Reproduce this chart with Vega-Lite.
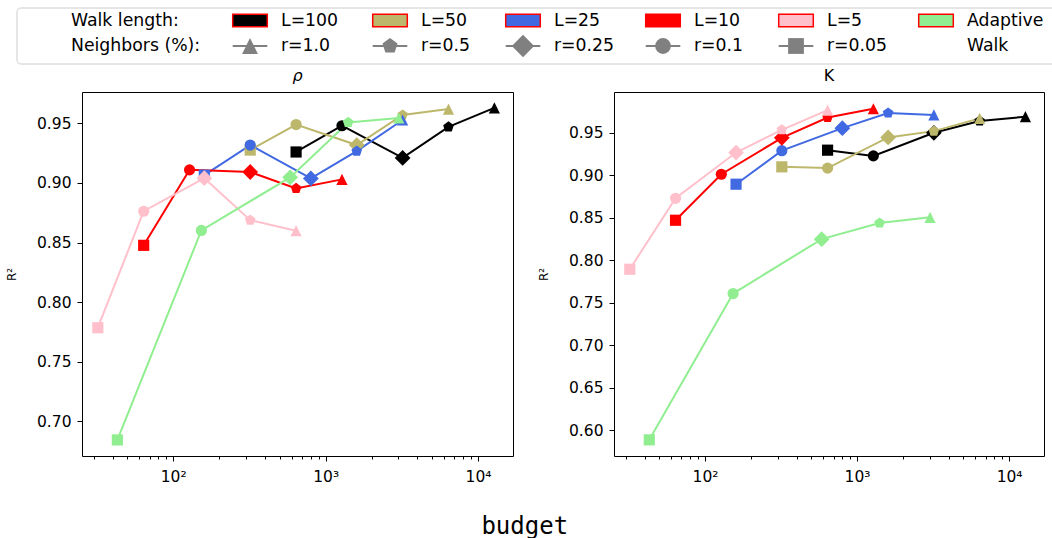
{
  "$schema": "https://vega.github.io/schema/vega-lite/v6.json",
  "padding": {"left": 4, "top": 7, "right": 0, "bottom": 0},
  "background": "white",
  "spacing": 2,
  "config": {
    "font": "DejaVu Sans",
    "view": {"stroke": "black", "strokeWidth": 1},
    "axis": {"labelFont": "DejaVu Sans", "labelFontSize": 15.5, "labelColor": "#000", "tickColor": "#000", "tickSize": 5, "labelPadding": 6, "grid": false, "domain": false, "titleFont": "DejaVu Sans", "titleFontSize": 12, "titleFontWeight": "normal", "titleColor": "#000"},
    "title": {"font": "DejaVu Sans", "fontSize": 16, "fontWeight": "normal", "offset": 8, "color": "#000"}
  },
  "datasets": {
    "main": [
      {"p": "rho", "s": "L=100", "r": "r=0.05", "b": 640, "v": 0.926},
      {"p": "rho", "s": "L=100", "r": "r=0.1", "b": 1280, "v": 0.948},
      {"p": "rho", "s": "L=100", "r": "r=0.25", "b": 3200, "v": 0.921},
      {"p": "rho", "s": "L=100", "r": "r=0.5", "b": 6400, "v": 0.947},
      {"p": "rho", "s": "L=100", "r": "r=1.0", "b": 12800, "v": 0.963},
      {"p": "rho", "s": "L=50", "r": "r=0.05", "b": 320, "v": 0.9276},
      {"p": "rho", "s": "L=50", "r": "r=0.1", "b": 640, "v": 0.949},
      {"p": "rho", "s": "L=50", "r": "r=0.25", "b": 1600, "v": 0.9318},
      {"p": "rho", "s": "L=50", "r": "r=0.5", "b": 3200, "v": 0.957},
      {"p": "rho", "s": "L=50", "r": "r=1.0", "b": 6400, "v": 0.962},
      {"p": "rho", "s": "L=25", "r": "r=0.05", "b": 160, "v": 0.9066},
      {"p": "rho", "s": "L=25", "r": "r=0.1", "b": 320, "v": 0.9318},
      {"p": "rho", "s": "L=25", "r": "r=0.25", "b": 800, "v": 0.9038},
      {"p": "rho", "s": "L=25", "r": "r=0.5", "b": 1600, "v": 0.9267},
      {"p": "rho", "s": "L=25", "r": "r=1.0", "b": 3200, "v": 0.9528},
      {"p": "rho", "s": "L=10", "r": "r=0.05", "b": 64, "v": 0.8477},
      {"p": "rho", "s": "L=10", "r": "r=0.1", "b": 128, "v": 0.911},
      {"p": "rho", "s": "L=10", "r": "r=0.25", "b": 320, "v": 0.9092},
      {"p": "rho", "s": "L=10", "r": "r=0.5", "b": 640, "v": 0.8954},
      {"p": "rho", "s": "L=10", "r": "r=1.0", "b": 1280, "v": 0.903},
      {"p": "rho", "s": "L=5", "r": "r=0.05", "b": 32, "v": 0.7786},
      {"p": "rho", "s": "L=5", "r": "r=0.1", "b": 64, "v": 0.8763},
      {"p": "rho", "s": "L=5", "r": "r=0.25", "b": 160, "v": 0.904},
      {"p": "rho", "s": "L=5", "r": "r=0.5", "b": 320, "v": 0.8688},
      {"p": "rho", "s": "L=5", "r": "r=1.0", "b": 640, "v": 0.86},
      {"p": "rho", "s": "Adaptive", "r": "r=0.05", "b": 43, "v": 0.6845},
      {"p": "rho", "s": "Adaptive", "r": "r=0.1", "b": 153, "v": 0.8602},
      {"p": "rho", "s": "Adaptive", "r": "r=0.25", "b": 585, "v": 0.9047},
      {"p": "rho", "s": "Adaptive", "r": "r=0.5", "b": 1406, "v": 0.9508},
      {"p": "rho", "s": "Adaptive", "r": "r=1.0", "b": 3020, "v": 0.9545},
      {"p": "K", "s": "L=100", "r": "r=0.05", "b": 640, "v": 0.9296},
      {"p": "K", "s": "L=100", "r": "r=0.1", "b": 1280, "v": 0.9229},
      {"p": "K", "s": "L=100", "r": "r=0.25", "b": 3200, "v": 0.95},
      {"p": "K", "s": "L=100", "r": "r=0.5", "b": 6400, "v": 0.9638},
      {"p": "K", "s": "L=100", "r": "r=1.0", "b": 12800, "v": 0.969},
      {"p": "K", "s": "L=50", "r": "r=0.05", "b": 320, "v": 0.91},
      {"p": "K", "s": "L=50", "r": "r=0.1", "b": 640, "v": 0.9085},
      {"p": "K", "s": "L=50", "r": "r=0.25", "b": 1600, "v": 0.9446},
      {"p": "K", "s": "L=50", "r": "r=0.5", "b": 3200, "v": 0.952},
      {"p": "K", "s": "L=50", "r": "r=1.0", "b": 6400, "v": 0.967},
      {"p": "K", "s": "L=25", "r": "r=0.05", "b": 160, "v": 0.8896},
      {"p": "K", "s": "L=25", "r": "r=0.1", "b": 320, "v": 0.929},
      {"p": "K", "s": "L=25", "r": "r=0.25", "b": 800, "v": 0.9555},
      {"p": "K", "s": "L=25", "r": "r=0.5", "b": 1600, "v": 0.9732},
      {"p": "K", "s": "L=25", "r": "r=1.0", "b": 3200, "v": 0.971},
      {"p": "K", "s": "L=10", "r": "r=0.05", "b": 64, "v": 0.8472},
      {"p": "K", "s": "L=10", "r": "r=0.1", "b": 128, "v": 0.9013},
      {"p": "K", "s": "L=10", "r": "r=0.25", "b": 320, "v": 0.9441},
      {"p": "K", "s": "L=10", "r": "r=0.5", "b": 640, "v": 0.968},
      {"p": "K", "s": "L=10", "r": "r=1.0", "b": 1280, "v": 0.9783},
      {"p": "K", "s": "L=5", "r": "r=0.05", "b": 32, "v": 0.7896},
      {"p": "K", "s": "L=5", "r": "r=0.1", "b": 64, "v": 0.873},
      {"p": "K", "s": "L=5", "r": "r=0.25", "b": 160, "v": 0.9268},
      {"p": "K", "s": "L=5", "r": "r=0.5", "b": 320, "v": 0.9535},
      {"p": "K", "s": "L=5", "r": "r=1.0", "b": 640, "v": 0.9767},
      {"p": "K", "s": "Adaptive", "r": "r=0.05", "b": 43, "v": 0.589},
      {"p": "K", "s": "Adaptive", "r": "r=0.1", "b": 153, "v": 0.761},
      {"p": "K", "s": "Adaptive", "r": "r=0.25", "b": 585, "v": 0.825},
      {"p": "K", "s": "Adaptive", "r": "r=0.5", "b": 1406, "v": 0.844},
      {"p": "K", "s": "Adaptive", "r": "r=1.0", "b": 3020, "v": 0.8506}
    ],
    "leg": [
      {"col": 0, "row": 0, "t": "Walk length:", "k": "title"},
      {"col": 0, "row": 1, "t": "Neighbors (%):", "k": "title"},
      {"col": 1, "row": 0, "t": "L=100", "k": "patch", "s": "L=100"},
      {"col": 2, "row": 0, "t": "L=50", "k": "patch", "s": "L=50"},
      {"col": 3, "row": 0, "t": "L=25", "k": "patch", "s": "L=25"},
      {"col": 4, "row": 0, "t": "L=10", "k": "patch", "s": "L=10"},
      {"col": 5, "row": 0, "t": "L=5", "k": "patch", "s": "L=5"},
      {"col": 6, "row": 0, "t": "Adaptive", "k": "patch", "s": "Adaptive"},
      {"col": 1, "row": 1, "t": "r=1.0", "k": "marker", "r": "r=1.0"},
      {"col": 2, "row": 1, "t": "r=0.5", "k": "marker", "r": "r=0.5"},
      {"col": 3, "row": 1, "t": "r=0.25", "k": "marker", "r": "r=0.25"},
      {"col": 4, "row": 1, "t": "r=0.1", "k": "marker", "r": "r=0.1"},
      {"col": 5, "row": 1, "t": "r=0.05", "k": "marker", "r": "r=0.05"},
      {"col": 6, "row": 1, "t": "Walk", "k": "blank"}
    ]
  },
  "vconcat": [
    {
      "width": 969,
      "height": 56,
      "data": {"name": "leg"},
      "view": {"stroke": null},
      "encoding": {
        "x": {"field": "col", "type": "quantitative", "scale": {"domain": [0, 1, 2, 3, 4, 5, 6], "range": [-42, 168, 308, 441, 581, 714, 854]}, "axis": null},
        "y": {"field": "row", "type": "quantitative", "scale": {"domain": [0, 1], "range": [12.5, 38]}, "axis": null}
      },
      "layer": [
        {
          "mark": {"type": "rect", "fill": "white", "stroke": "#cccccc", "strokeWidth": 1, "cornerRadius": 4, "xOffset": -23, "x2Offset": 140, "yOffset": -12.5, "y2Offset": 18},
          "encoding": {
            "x": {"aggregate": "min", "field": "col", "type": "quantitative"},
            "x2": {"aggregate": "max", "field": "col"},
            "y": {"aggregate": "min", "field": "row", "type": "quantitative"},
            "y2": {"aggregate": "max", "field": "row"}
          }
        },
        {
          "transform": [{"filter": "datum.k == 'patch'"}],
          "mark": {"type": "point", "filled": true, "opacity": 1, "size": 400, "shape": "M-1.73,-0.62H1.73V0.62H-1.73Z", "stroke": "red", "strokeWidth": 1.5},
          "encoding": {"color": {"field": "s", "type": "nominal", "scale": {"domain": ["L=100", "L=50", "L=25", "L=10", "L=5", "Adaptive"], "range": ["#000000", "#BDB76B", "#4169E1", "#FF0000", "#FFC0CB", "#90EE90"]}, "legend": null}}
        },
        {
          "transform": [{"filter": "datum.k == 'marker'"}],
          "mark": {"type": "point", "filled": false, "opacity": 1, "size": 400, "shape": "M-1.73,0H1.73", "color": "gray", "strokeWidth": 2}
        },
        {
          "transform": [{"filter": "datum.k == 'marker'"}],
          "mark": {"type": "point", "filled": true, "opacity": 1, "size": 250, "color": "gray"},
          "encoding": {"shape": {"field": "r", "type": "nominal", "scale": {"domain": ["r=1.0", "r=0.5", "r=0.25", "r=0.1", "r=0.05"], "range": ["M0,-1L1,1L-1,1Z", "M0,-1L0.951,-0.309L0.588,0.809L-0.588,0.809L-0.951,-0.309Z", "M0,-1.414L1.414,0L0,1.414L-1.414,0Z", "circle", "M-1,-1H1V1H-1Z"]}, "legend": null}}
        },
        {
          "mark": {"type": "text", "align": "left", "baseline": "middle", "dx": 31, "fontSize": 17.3, "font": "DejaVu Sans", "color": "#000"},
          "encoding": {"text": {"field": "t", "type": "nominal"}}
        }
      ]
    },
    {
      "spacing": 22,
      "title": {"text": "budget", "orient": "bottom", "anchor": "middle", "font": "DejaVu Sans Mono", "fontSize": 24, "offset": 30},
      "hconcat": [
        {
          "width": 431,
          "height": 364,
          "title": {"text": "ρ", "fontStyle": "italic"},
          "data": {"name": "main"},
          "transform": [{"filter": "datum.p == 'rho'"}],
          "layer": [
            {
              "mark": {"type": "line", "strokeWidth": 2},
              "encoding": {
                "x": {"field": "b", "type": "quantitative", "scale": {"type": "log", "domain": [25.2, 16960], "nice": false}, "axis": {"values": [100, 1000, 10000], "labelExpr": "datum.value == 100 ? '10²' : datum.value == 1000 ? '10³' : '10⁴'", "tickSize": 5, "labelPadding": 8, "title": null, "labelFlush": false}},
                "y": {"field": "v", "type": "quantitative", "scale": {"domain": [0.671, 0.9763], "nice": false, "zero": false}, "axis": {"values": [0.7, 0.75, 0.8, 0.85, 0.9, 0.95], "format": ".2f", "title": "R²", "titlePadding": 18}},
                "color": {"field": "s", "type": "nominal", "scale": {"domain": ["L=100", "L=50", "L=25", "L=10", "L=5", "Adaptive"], "range": ["#000000", "#BDB76B", "#4169E1", "#FF0000", "#FFC0CB", "#90EE90"]}, "legend": null}
              }
            },
            {
              "mark": {"type": "point", "filled": true, "opacity": 1, "size": 125},
              "encoding": {
                "x": {"field": "b", "type": "quantitative", "axis": null},
                "y": {"field": "v", "type": "quantitative"},
                "color": {"field": "s", "type": "nominal", "legend": null},
                "shape": {"field": "r", "type": "nominal", "scale": {"domain": ["r=1.0", "r=0.5", "r=0.25", "r=0.1", "r=0.05"], "range": ["M0,-1L1,1L-1,1Z", "M0,-1L0.951,-0.309L0.588,0.809L-0.588,0.809L-0.951,-0.309Z", "M0,-1.414L1.414,0L0,1.414L-1.414,0Z", "circle", "M-1,-1H1V1H-1Z"]}, "legend": null}
              }
            },
            {
              "mark": {"type": "point", "opacity": 0},
              "encoding": {
                "x": {"field": "b", "type": "quantitative", "axis": {"values": [30, 40, 50, 60, 70, 80, 90, 200, 300, 400, 500, 600, 700, 800, 900, 2000, 3000, 4000, 5000, 6000, 7000, 8000, 9000], "labels": false, "tickSize": 3, "orient": "bottom", "title": null}}
              }
            }
          ],
          "resolve": {"axis": {"x": "independent"}}
        },
        {
          "width": 430,
          "height": 364,
          "title": {"text": "K"},
          "data": {"name": "main"},
          "transform": [{"filter": "datum.p == 'K'"}],
          "layer": [
            {
              "mark": {"type": "line", "strokeWidth": 2},
              "encoding": {
                "x": {"field": "b", "type": "quantitative", "scale": {"type": "log", "domain": [25.2, 16960], "nice": false}, "axis": {"values": [100, 1000, 10000], "labelExpr": "datum.value == 100 ? '10²' : datum.value == 1000 ? '10³' : '10⁴'", "tickSize": 5, "labelPadding": 8, "title": null, "labelFlush": false}},
                "y": {"field": "v", "type": "quantitative", "scale": {"domain": [0.57, 0.998], "nice": false, "zero": false}, "axis": {"values": [0.6, 0.65, 0.7, 0.75, 0.8, 0.85, 0.9, 0.95], "format": ".2f", "title": "R²", "titlePadding": 18}},
                "color": {"field": "s", "type": "nominal", "scale": {"domain": ["L=100", "L=50", "L=25", "L=10", "L=5", "Adaptive"], "range": ["#000000", "#BDB76B", "#4169E1", "#FF0000", "#FFC0CB", "#90EE90"]}, "legend": null}
              }
            },
            {
              "mark": {"type": "point", "filled": true, "opacity": 1, "size": 125},
              "encoding": {
                "x": {"field": "b", "type": "quantitative", "axis": null},
                "y": {"field": "v", "type": "quantitative"},
                "color": {"field": "s", "type": "nominal", "legend": null},
                "shape": {"field": "r", "type": "nominal", "scale": {"domain": ["r=1.0", "r=0.5", "r=0.25", "r=0.1", "r=0.05"], "range": ["M0,-1L1,1L-1,1Z", "M0,-1L0.951,-0.309L0.588,0.809L-0.588,0.809L-0.951,-0.309Z", "M0,-1.414L1.414,0L0,1.414L-1.414,0Z", "circle", "M-1,-1H1V1H-1Z"]}, "legend": null}
              }
            },
            {
              "mark": {"type": "point", "opacity": 0},
              "encoding": {
                "x": {"field": "b", "type": "quantitative", "axis": {"values": [30, 40, 50, 60, 70, 80, 90, 200, 300, 400, 500, 600, 700, 800, 900, 2000, 3000, 4000, 5000, 6000, 7000, 8000, 9000], "labels": false, "tickSize": 3, "orient": "bottom", "title": null}}
              }
            }
          ],
          "resolve": {"axis": {"x": "independent"}}
        }
      ]
    }
  ]
}
